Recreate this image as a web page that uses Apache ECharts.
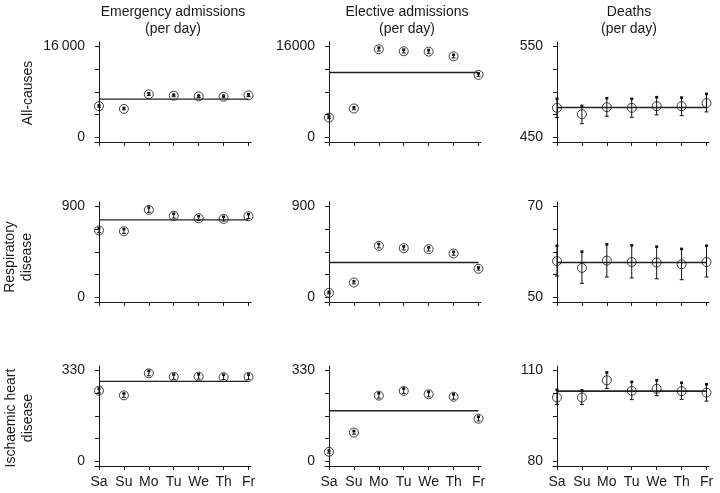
<!DOCTYPE html>
<html><head><meta charset="utf-8">
<script src="https://cdn.jsdelivr.net/npm/echarts@6/dist/echarts.min.js"></script>
<style>html,body{margin:0;padding:0;background:#fff}#c{width:720px;height:493px}</style>
</head><body><div id="c"></div>
<script>
const days = ['Sa','Su','Mo','Tu','We','Th','Fr'];
const colTitles = ['Emergency admissions\n(per day)','Elective admissions\n(per day)','Deaths\n(per day)'];
const rowTitles = ['All-causes','Respiratory\ndisease','Ischaemic heart\ndisease'];

// Row 1: all causes
const emergAllMean = [5510, 5030, 7590, 7350, 7230, 7170, 7410];
const emergAllErr  = [180, 170, 200, 190, 190, 190, 190];
const emergAllRef  = 6760;
const electAllMean = [3500, 5100, 15520, 15170, 15110, 14280, 11020];
const electAllErr  = [200, 220, 300, 290, 290, 280, 260];
const electAllRef  = 11430;
const deathAllMean = [482.6, 475.6, 483.3, 482.6, 484.4, 484.4, 487.8];
const deathAllLo   = [471.9, 465.2, 473.3, 472.2, 474.8, 474.0, 478.1];
const deathAllHi   = [492.6, 484.8, 493.3, 492.6, 494.4, 494.0, 498.1];
const deathAllRef  = 483;

// Row 2: respiratory disease
const emergRespMean = [663, 656, 867, 808, 784, 778, 804];
const emergRespErr  = [22, 22, 25, 22, 22, 22, 22];
const emergRespRef  = 768;
const electRespMean = [46, 148, 511, 488, 478, 435, 284];
const electRespErr  = [10, 14, 20, 18, 18, 17, 14];
const electRespRef  = 346;
const deathRespMean = [58.0, 56.5, 58.1, 57.8, 57.7, 57.3, 57.8];
const deathRespLo   = [54.7, 53.1, 54.5, 54.3, 54.1, 53.9, 54.5];
const deathRespHi   = [61.4, 60.1, 61.7, 61.5, 61.2, 60.7, 61.4];
const deathRespRef  = 57.7;

// Row 3: ischaemic heart disease
const emergIhdMean = [257, 240, 320, 307, 308, 306, 307];
const emergIhdErr  = [8, 7, 9, 9, 9, 9, 9];
const emergIhdRef  = 291;
const electIhdMean = [35, 105, 239, 256, 244, 235, 155];
const electIhdErr  = [5, 6, 9, 9, 9, 9, 8];
const electIhdRef  = 184;
const deathIhdMean = [101.1, 101.1, 106.8, 103.3, 104.0, 103.2, 102.7];
const deathIhdLo   = [98.8, 98.8, 104.1, 100.4, 101.7, 100.5, 99.9];
const deathIhdHi   = [103.7, 103.5, 109.4, 106.3, 106.8, 106.0, 105.5];
const deathIhdRef  = 103.2;

// axis ranges [min, max] and end labels
const yRanges = [[0,16000],[0,16000],[450,550],[0,900],[0,900],[50,70],[0,330],[0,330],[80,110]];
const yTopLabels = ['16\u2009000','16000','550','900','900','70','330','330','110'];

function sym(mean, err){ return {mean, lo: mean.map((m,i)=>m-err[i]), hi: mean.map((m,i)=>m+err[i])}; }
const panels = [
  Object.assign(sym(emergAllMean, emergAllErr), {ref: emergAllRef}),
  Object.assign(sym(electAllMean, electAllErr), {ref: electAllRef}),
  {mean: deathAllMean, lo: deathAllLo, hi: deathAllHi, ref: deathAllRef},
  Object.assign(sym(emergRespMean, emergRespErr), {ref: emergRespRef}),
  Object.assign(sym(electRespMean, electRespErr), {ref: electRespRef}),
  {mean: deathRespMean, lo: deathRespLo, hi: deathRespHi, ref: deathRespRef},
  Object.assign(sym(emergIhdMean, emergIhdErr), {ref: emergIhdRef}),
  Object.assign(sym(electIhdMean, electIhdErr), {ref: electIhdRef}),
  {mean: deathIhdMean, lo: deathIhdLo, hi: deathIhdHi, ref: deathIhdRef}
];

const colLeft = [95, 325, 553];
const rowTop = [42, 202, 366];
const gw = 156, gh = 100;
const font = 'Liberation Sans, Arial, Helvetica, sans-serif';
const txt = '#1a1a1a';

const grids = [], xAxes = [], yAxes = [], series = [];
for (let r = 0; r < 3; r++) {
  for (let c = 0; c < 3; c++) {
    const k = r*3 + c;
    const p = panels[k];
    const [lo, hi] = yRanges[k];
    const pad = (hi - lo) * 0.05;
    grids.push({left: colLeft[c], top: rowTop[r], width: gw, height: gh});
    xAxes.push({
      type: 'value', gridIndex: k, min: -0.16, max: 6.1,
      axisLine: {show: true, onZero: false, lineStyle: {color: txt, width: 1}},
      axisTick: {show: true, length: 4, customValues: [0,1,2,3,4,5,6], lineStyle: {color: txt}},
      axisLabel: {show: r === 2, customValues: [0,1,2,3,4,5,6], margin: 9,
        formatter: v => days[Math.round(v)] || '', color: txt, fontSize: 14, fontFamily: font},
      splitLine: {show: false}
    });
    const ticks = [0,1,2,3,4].map(i => lo + (hi-lo)*i/4);
    yAxes.push({
      type: 'value', gridIndex: k, min: lo - pad, max: hi + pad,
      axisLine: {show: true, lineStyle: {color: txt, width: 1}},
      axisTick: {show: true, length: 4, customValues: ticks, lineStyle: {color: txt}},
      axisLabel: {show: true, customValues: [lo, hi], margin: 10,
        formatter: v => (Math.abs(v - hi) < 1e-9 ? yTopLabels[k] : String(lo)),
        color: txt, fontSize: 14, fontFamily: font},
      splitLine: {show: false}
    });
    // reference line
    series.push({
      type: 'line', xAxisIndex: k, yAxisIndex: k, symbol: 'none', silent: true,
      data: [[0, p.ref], [6, p.ref]],
      lineStyle: {color: '#222', width: c === 2 ? 1.6 : 1.3}, z: 1
    });
    // error bars
    series.push({
      type: 'custom', xAxisIndex: k, yAxisIndex: k, silent: true, z: 2,
      data: p.mean.map((m,i) => [i, p.lo[i], p.hi[i]]),
      renderItem: (params, api) => {
        const x = api.value(0);
        const a = api.coord([x, api.value(1)]);
        const b = api.coord([x, api.value(2)]);
        const st = {stroke: '#111', lineWidth: 1};
        return {type: 'group', children: [
          {type: 'line', shape: {x1: a[0], y1: a[1], x2: b[0], y2: b[1]}, style: st},
          {type: 'line', shape: {x1: a[0]-2, y1: a[1], x2: a[0]+2, y2: a[1]}, style: st},
          {type: 'rect', shape: {x: b[0]-1.5, y: b[1]-1.2, width: 3, height: 2.6}, style: {fill: '#111'}}
        ]};
      }
    });
    // points
    series.push({
      type: 'scatter', xAxisIndex: k, yAxisIndex: k, silent: true, z: 3,
      symbol: 'circle', symbolSize: 9,
      itemStyle: {color: 'rgba(0,0,0,0)', borderColor: '#111', borderWidth: 1},
      data: p.mean.map((m,i) => [i, m])
    });
  }
}

const graphics = [];
const colCenters = [173, 407, 629];
colTitles.forEach((t, c) => graphics.push({
  type: 'text', left: 'auto', x: colCenters[c], y: 4,
  style: {text: t, fill: txt, font: '14px ' + font, textAlign: 'center', textVerticalAlign: 'top', lineHeight: 17}
}));
const rowCenters = [[28, 93], [19, 257], [20, 418]];
rowTitles.forEach((t, r) => graphics.push({
  type: 'text', x: rowCenters[r][0], y: rowCenters[r][1], rotation: Math.PI/2,
  style: {text: t, fill: txt, font: '14px ' + font, textAlign: 'center', textVerticalAlign: 'middle', lineHeight: 17}
}));

const chart = echarts.init(document.getElementById('c'), null, {renderer: 'canvas'});
chart.setOption({
  animation: false,
  backgroundColor: '#fff',
  grid: grids, xAxis: xAxes, yAxis: yAxes, series: series, graphic: graphics
});
</script>
</body></html>
